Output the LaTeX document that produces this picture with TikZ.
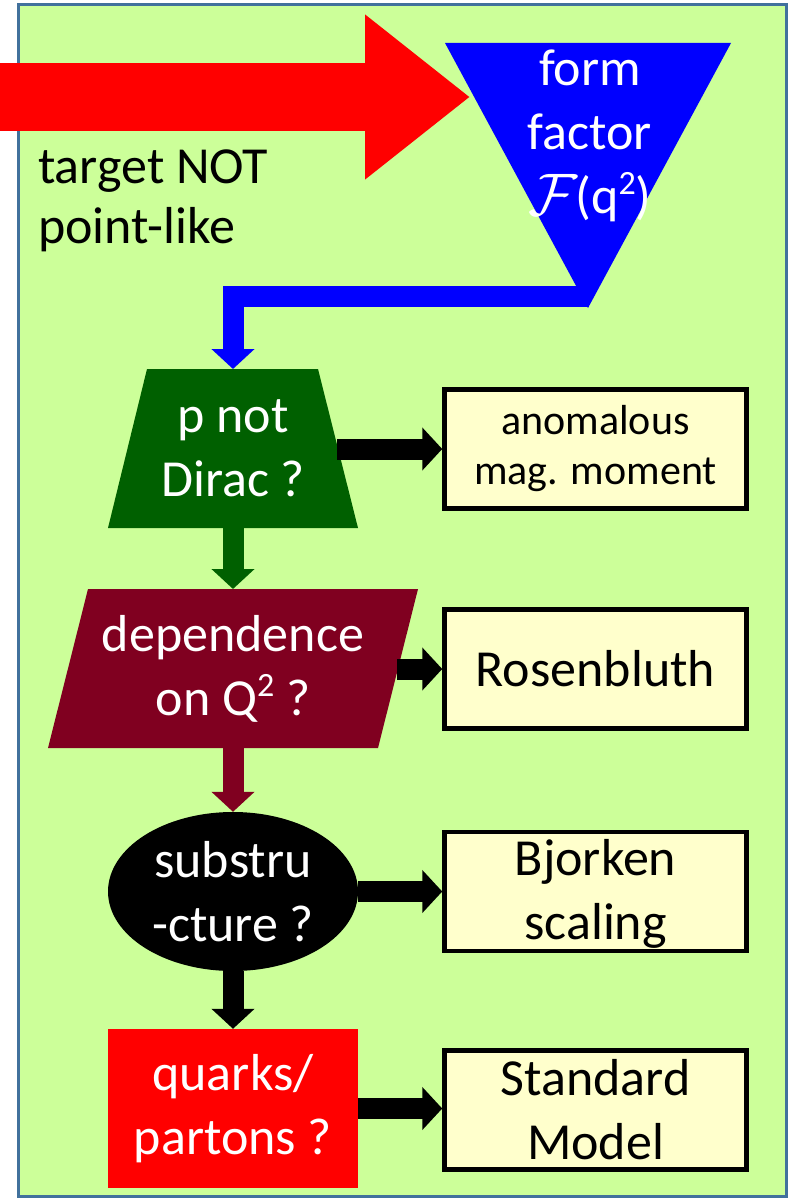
\documentclass[tikz,border=0pt]{standalone}
\usepackage{graphicx}
\usepackage{fontspec}
\setmainfont{Carlito}
\usetikzlibrary{arrows.meta,shapes.geometric}
\definecolor{bgreen}{HTML}{CCFF99}
\definecolor{frameblue}{HTML}{41719C}
\definecolor{dgreen}{HTML}{006000}
\definecolor{maroonc}{HTML}{800020}
\definecolor{paleyellow}{HTML}{FFFFCC}
\definecolor{pureblue}{HTML}{0000FF}
\definecolor{purered}{HTML}{FF0000}
\newcommand{\calF}{\smash{\raisebox{-2pt}{\scalebox{6.0}{\fontsize{10}{12}\selectfont$\mathcal{F}$}}}\kern-2pt}
\newcommand{\mysup}[1]{\raisebox{0.36em}{\fontsize{34}{34}\selectfont #1}}
\begin{document}
\begin{tikzpicture}[x=1pt,y=-1pt,
  bigtext/.style={font=\fontsize{52}{64}\selectfont, align=center, inner sep=0pt},
  wtext/.style={bigtext, text=white},
  result/.style={draw=black, line width=4.5pt, fill=paleyellow, minimum width=302pt,
    minimum height=119pt, inner sep=0pt, align=center, font=\fontsize{52}{64}\selectfont},
  blockarrow/.style={line width=21pt, line join=miter, -{Triangle[width=42pt,length=20pt]}},
]
\useasboundingbox (0,0) rectangle (789,1198);
\fill[white] (0,0) rectangle (789,1198);
\draw[frameblue, line width=3pt, fill=bgreen] (18.5,5) rectangle (786.5,1196);

% big red arrow
\coordinate (redstart) at (0,97);
\coordinate (redtip) at (470,97);
\draw[purered, line width=68pt, -{Triangle[width=158pt,length=105pt]}] (redstart) -- (redtip);

% form factor triangle
\fill[pureblue] (445,43) -- (731,43) -- (588,308) -- cycle;
\node[wtext] (ff) at (590,136) {form\\factor\\\calF(q\mysup{2})};

% target text
\node[bigtext, align=left, anchor=west, font=\fontsize{52}{60}\selectfont] (tgt) at (38,201) {target NOT\\point-like};

% p not Dirac trapezoid
\fill[dgreen] (147,369) -- (318,369) -- (358,528) -- (108,528) -- cycle;
\node[wtext] (pnd) at (233,448.5) {p not\\Dirac ?};
\coordinate (pndtop) at (233,369);
\coordinate (pndbot) at (233,528);
\coordinate (pndright) at (337,449);

% dependence parallelogram
\fill[maroonc] (88,589) -- (418,589) -- (378,748) -- (48,748) -- cycle;
\node[wtext] (dep) at (233,668.5) {dependence\\on Q\mysup{2} ?};
\coordinate (deptop) at (233,589);
\coordinate (depbot) at (233,748);
\coordinate (depright) at (397,669);

% substructure ellipse
\node[ellipse, fill=black, minimum width=250pt, minimum height=159pt, wtext] (sub) at (233,891.5) {substru\\-cture ?};

% quarks rectangle
\node[fill=purered, minimum width=250pt, minimum height=159pt, wtext] (qp) at (233,1108.5) {quarks/\\partons ?};

% result boxes
\node[result, font=\fontsize{42}{50}\selectfont] (anom) at (595.5,449) {anomalous\\mag. moment};
\node[result] (ros) at (595.5,669) {Rosenbluth};
\node[result, text depth=4pt] (bj) at (595.5,891.5) {Bjorken\\scaling};
\node[result] (sm) at (595.5,1110) {Standard\\Model};

% connectors
\coordinate (ffout) at (589,296);
\draw[blockarrow, pureblue] (ffout) -- (ffout -| pndtop) -- (pndtop);
\draw[blockarrow, dgreen] (pndbot) -- (deptop);
\draw[blockarrow, maroonc] (depbot) -- (sub.north);
\draw[blockarrow, black] (sub.south) -- (qp.north);
\draw[blockarrow] (pndright) -- (anom.west);
\draw[blockarrow] (depright) -- (ros.west);
\draw[blockarrow] (sub.east) -- (bj.west);
\draw[blockarrow] (qp.east) -- (qp.east -| sm.west);
\end{tikzpicture}
\end{document}
